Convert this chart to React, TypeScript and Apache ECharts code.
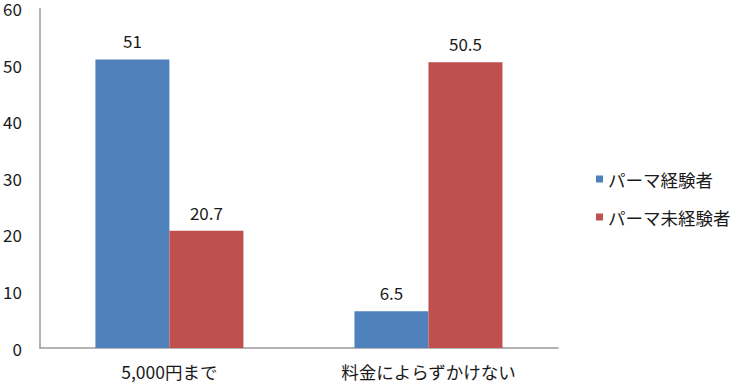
import React, { useEffect, useRef } from "react";
import * as echarts from "echarts";

const categories = ["5,000円まで", "料金によらずかけない"];
const seriesNames = ["パーマ経験者", "パーマ未経験者"];
const experienced = [51, 6.5];
const inexperienced = [20.7, 50.5];
const colors = ["#4F81BD", "#C0504D"];
const FONT = "'Noto Sans CJK JP', sans-serif";

export default function App() {
  const ref = useRef<HTMLDivElement>(null);
  useEffect(() => {
    if (!ref.current) return;
    const chart = echarts.init(ref.current, undefined, { renderer: "svg" });
    const label = {
      show: true,
      position: "top",
      distance: 10,
      color: "#1a1a1a",
      fontSize: 17,
      fontFamily: FONT,
    };
    chart.setOption({
      animation: false,
      textStyle: { fontFamily: FONT },
      grid: { left: 39, right: 184, top: 8, bottom: 36, containLabel: false },
      legend: {
        orient: "vertical",
        left: 591,
        top: 163,
        icon: "rect",
        itemWidth: 7,
        itemHeight: 7,
        itemGap: 16,
        textStyle: { fontSize: 17.5, color: "#1a1a1a", fontFamily: FONT, lineHeight: 22 },
        data: seriesNames,
      },
      xAxis: {
        type: "category",
        data: categories,
        axisLine: { lineStyle: { color: "#9a9a9a", width: 1.5 } },
        axisTick: { show: false },
        axisLabel: { color: "#1a1a1a", fontSize: 17.5, margin: 15, fontFamily: FONT },
      },
      yAxis: {
        type: "value",
        min: 0,
        max: 60,
        interval: 10,
        axisLine: { show: true, lineStyle: { color: "#9a9a9a", width: 1.5 } },
        axisTick: { show: false },
        splitLine: { show: false },
        axisLabel: {
          color: "#1a1a1a",
          fontSize: 17,
          lineHeight: 14,
          margin: 18,
          fontFamily: FONT,
        },
      },
      series: [
        {
          name: seriesNames[0],
          type: "bar",
          data: experienced,
          barWidth: 74,
          barGap: "0%",
          itemStyle: { color: colors[0] },
          label,
        },
        {
          name: seriesNames[1],
          type: "bar",
          data: inexperienced,
          barWidth: 74,
          barGap: "0%",
          itemStyle: { color: colors[1] },
          label,
        },
      ],
    });
    return () => chart.dispose();
  }, []);
  return (
    <div
      ref={ref}
      style={{ position: "absolute", left: 0, top: 0, width: 742, height: 384 }}
    />
  );
}
